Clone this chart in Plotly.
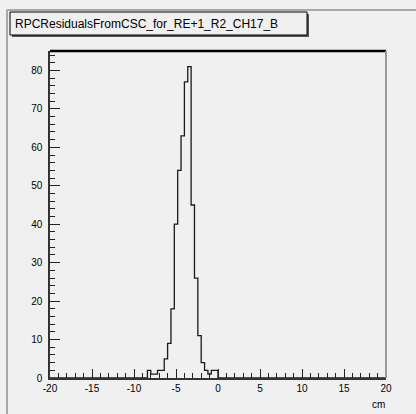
import numpy as np
import plotly.graph_objects as go

# Histogram: 100 bins of 0.4 cm from -20 to 20 cm; only non-empty bins listed
hist_title = "RPCResidualsFromCSC_for_RE+1_R2_CH17_B"
x_unit = "cm"
bin_lo = [-8.4, -8.0, -7.6, -7.2, -6.8, -6.4, -6.0, -5.6, -5.2, -4.8, -4.4,
          -4.0, -3.6, -3.2, -2.8, -2.4, -2.0, -1.6, -1.2, -0.8, -0.4]
counts = [2, 1, 1, 2, 2, 5, 9, 18, 40, 54, 63,
          77, 81, 45, 26, 11, 4, 2, 1, 2, 2]
x_min, x_max, n_bins = -20.0, 20.0, 100
x_ticks = [-20, -15, -10, -5, 0, 5, 10, 15, 20]
y_ticks = [0, 10, 20, 30, 40, 50, 60, 70, 80]

edges = np.linspace(x_min, x_max, n_bins + 1)
width = (x_max - x_min) / n_bins
full = np.zeros(n_bins)
for lo, c in zip(bin_lo, counts):
    full[int(round((lo - x_min) / width))] = c
step_x = list(edges)
step_y = list(full) + [full[-1]]
y_top = 1.05 * max(counts)

BG = "#f0f0f0"
FONT = "Liberation Sans, Arial, sans-serif"

W, H = 416, 414
L, R, T, B = 50, 386, 51, 378  # plot frame in pixels


def px(x):
    return (x - L) / (R - L)


def py(y):
    return (B - y) / (B - T)


fig = go.Figure()
fig.add_trace(go.Scatter(
    x=step_x, y=step_y, mode="lines", line=dict(color="#1a1a1a", width=1.3, shape="hv"),
    hoverinfo="skip", showlegend=False, cliponaxis=True,
))

shapes = [
    # canvas bevel
    dict(type="line", xref="paper", yref="paper", x0=px(7), x1=px(416), y0=py(10), y1=py(10),
         line=dict(color="#a8a8a8", width=2)),
    dict(type="line", xref="paper", yref="paper", x0=px(7), x1=px(7), y0=py(10), y1=py(414),
         line=dict(color="#a8a8a8", width=2)),
    # title box shadow and box
    dict(type="rect", xref="paper", yref="paper", x0=px(12), x1=px(309), y0=py(14), y1=py(37),
         line=dict(width=0), fillcolor="#555555"),
    dict(type="rect", xref="paper", yref="paper", x0=px(10), x1=px(307), y0=py(12), y1=py(35),
         line=dict(color="#000000", width=1), fillcolor=BG),
    # frame: thick top edge, grey right edge
    dict(type="line", xref="paper", yref="paper", x0=0, x1=1, y0=1, y1=1,
         line=dict(color="#000000", width=2.5)),
    dict(type="line", xref="paper", yref="paper", x0=1, x1=1, y0=0, y1=1,
         line=dict(color="#9a9a9a", width=2)),
]

annotations = [
    dict(text=hist_title, xref="paper", yref="paper", x=px(13), y=py(23.5),
         xanchor="left", yanchor="middle", showarrow=False,
         font=dict(family=FONT, size=12, color="#000000")),
    dict(text=x_unit, xref="paper", yref="paper", x=px(378), y=py(404),
         xanchor="center", yanchor="middle", showarrow=False,
         font=dict(family=FONT, size=10, color="#000000")),
]

fig.update_layout(
    width=W, height=H,
    margin=dict(l=L, r=W - R, t=T, b=H - B, pad=0),
    paper_bgcolor=BG, plot_bgcolor=BG,
    shapes=shapes, annotations=annotations,
    font=dict(family=FONT, size=10, color="#000000"),
)
fig.update_xaxes(
    range=[x_min, x_max], tickvals=x_ticks, ticktext=[str(v) for v in x_ticks],
    ticks="inside", ticklen=9, tickwidth=1, tickcolor="#222222",
    minor=dict(dtick=1, tick0=0, ticks="inside", ticklen=5, tickcolor="#222222", tickwidth=1),
    showgrid=False, zeroline=False, showline=True, linecolor="#333333", linewidth=1.5,
    tickfont=dict(family=FONT, size=10, color="#000000"),
)
fig.update_yaxes(
    range=[0, y_top], tickvals=y_ticks, ticktext=[str(v) for v in y_ticks],
    ticks="inside", ticklen=10, tickwidth=1, tickcolor="#222222",
    minor=dict(dtick=2, tick0=0, ticks="inside", ticklen=5, tickcolor="#222222", tickwidth=1),
    showgrid=False, zeroline=False, showline=True, linecolor="#333333", linewidth=1.5,
    tickfont=dict(family=FONT, size=10, color="#000000"), ticklabelstandoff=4,
)

fig.write_html("out.html")
